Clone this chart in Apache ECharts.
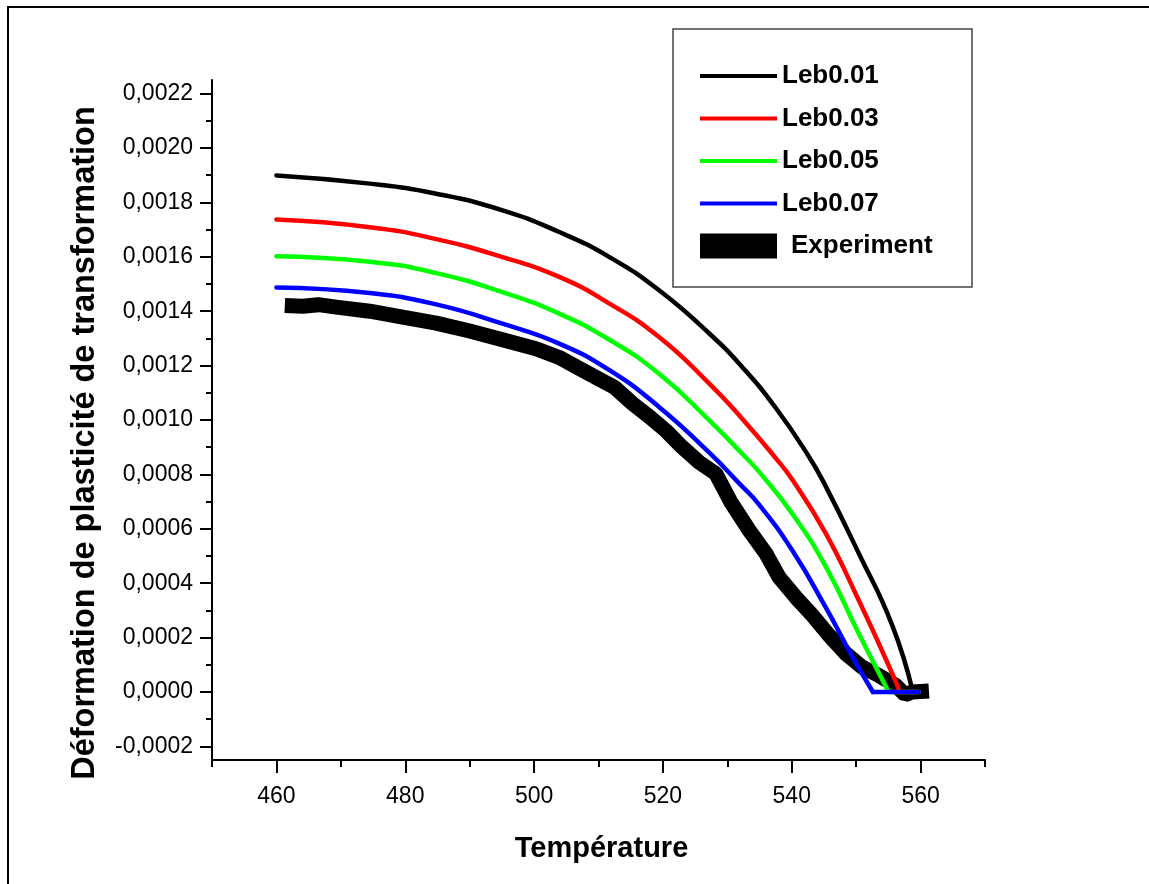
<!DOCTYPE html>
<html>
<head>
<meta charset="utf-8">
<title>Déformation de plasticité de transformation</title>
<script src="https://cdn.jsdelivr.net/npm/echarts@6/dist/echarts.min.js"></script>
<style>
  html, body { margin: 0; padding: 0; background: #fff; }
  #chart { width: 1149px; height: 884px; }
</style>
</head>
<body>
<div id="chart"></div>
<script>
// Axis ticks
const xMajorTicks = [460, 480, 500, 520, 540, 560];
const yMajorTicks = [-0.0002, 0, 0.0002, 0.0004, 0.0006, 0.0008, 0.0010, 0.0012, 0.0014, 0.0016, 0.0018, 0.0020, 0.0022];
const yMinorTicks = [-0.0001, 0.0001, 0.0003, 0.0005, 0.0007, 0.0009, 0.0011, 0.0013, 0.0015, 0.0017, 0.0019, 0.0021];

// Model curves: [température, déformation] up to the end of transformation
const leb001 = [
  [460, 0.001899], [474.5, 0.001869], [484.8, 0.001832], [495.1, 0.001771],
  [503.9, 0.001691], [511.7, 0.001599], [519.4, 0.001477], [527.2, 0.001318],
  [532.3, 0.001195], [537.5, 0.001045], [542.7, 0.000864], [545.3, 0.000755],
  [550.4, 0.000510], [555.6, 0.000245], [558.8, 0]
];
const leb003 = [
  [460, 0.001737], [474.5, 0.001709], [484.8, 0.001665], [495.1, 0.001599],
  [503.9, 0.001526], [511.7, 0.001428], [519.4, 0.001305], [527.2, 0.001134],
  [532.3, 0.001005], [537.5, 0.000860], [540.1, 0.000780], [545.3, 0.000582],
  [550.4, 0.000337], [555.6, 0.000068], [556.8, 0]
];
const leb005 = [
  [460, 0.001602], [474.5, 0.001582], [484.8, 0.001540], [495.1, 0.001470],
  [503.9, 0.001391], [511.7, 0.001295], [519.4, 0.001170], [527.2, 0.000999],
  [532.3, 0.000876], [534.9, 0.000810], [540.1, 0.000655], [545.3, 0.000460],
  [550.4, 0.000215], [554.6, 0.000020], [555.0, 0]
];
const leb007 = [
  [460, 0.001487], [474.5, 0.001467], [484.8, 0.001425], [495.1, 0.001354],
  [503.9, 0.001281], [511.7, 0.001183], [519.4, 0.001048], [527.2, 0.000880],
  [531.8, 0.000768], [534.9, 0.000690], [540.1, 0.000520], [545.3, 0.000310],
  [549.4, 0.000130], [552.6, 0]
];
// Plateau after the end of transformation
const leb001Tail = [[558.8, 0], [559.7, 0]];
const leb003Tail = [[556.8, 0], [559.7, 0]];
const leb005Tail = [[555.0, 0], [559.7, 0]];
const leb007Tail = [[552.6, 0], [559.7, 0]];

// Measured curve
const experiment = [
  [461.3, 0.001421], [464.1, 0.001418], [466.5, 0.001424], [469.3, 0.001415],
  [474.5, 0.001400], [479.6, 0.001378], [484.8, 0.001356], [490.0, 0.001327],
  [495.1, 0.001295], [500.3, 0.001262], [503.9, 0.001230], [507.0, 0.001190],
  [510.1, 0.001150], [512.5, 0.001120], [515.3, 0.001060], [518.0, 0.001010],
  [520.5, 0.000960], [523.0, 0.000900], [525.6, 0.000845], [528.2, 0.000803],
  [530.5, 0.000700], [533.4, 0.000594], [536.0, 0.000509], [538.0, 0.000423],
  [540.6, 0.000349], [543.2, 0.000282], [545.8, 0.000208], [548.4, 0.000141],
  [550.9, 0.000092], [553.5, 0.000061], [556.1, 0.000025], [557.6, -0.000010],
  [558.7, 0], [561.3, 0.000004]
];

const FONT = "'Liberation Sans', Arial, sans-serif";
const fmt = v => v.toFixed(4).replace('.', ',');
const LINE_ICON = 'path://M0,0H77V4H0Z';

const chart = echarts.init(document.getElementById('chart'), null, { renderer: 'canvas' });

const modelLine = (name, data, color, smooth) => ({
  name, type: 'line', data,
  xAxisIndex: 0, yAxisIndex: 0,
  showSymbol: false, symbol: 'none',
  smooth: smooth ? 0.5 : false,
  lineStyle: { color, width: 4.5, cap: 'round', join: 'round' },
  itemStyle: { color },
  z: 3
});

const curves = [
  ['Leb0.01', leb001, leb001Tail, '#000000'],
  ['Leb0.03', leb003, leb003Tail, '#ff0000'],
  ['Leb0.05', leb005, leb005Tail, '#00ff00'],
  ['Leb0.07', leb007, leb007Tail, '#0000ff']
];
const modelSeries = [];
curves.forEach(([name, data, tail, color]) => {
  modelSeries.push(modelLine(name, data, color, true));
  modelSeries.push(modelLine(name, tail, color, false));
});

chart.setOption({
  animation: false,
  backgroundColor: '#fff',
  grid: { left: 212, right: 164, top: 80, bottom: 124, containLabel: false },
  xAxis: [
    {
      type: 'value', min: 450, max: 570, position: 'bottom',
      name: 'Température', nameLocation: 'middle', nameGap: 74,
      nameTextStyle: { fontFamily: FONT, fontWeight: 'bold', fontSize: 29, color: '#000', padding: [0, 0, 0, 6] },
      axisLine: { show: true, onZero: false, lineStyle: { color: '#000', width: 2 } },
      axisTick: { show: true, length: 13, customValues: xMajorTicks, lineStyle: { color: '#000', width: 2 } },
      axisLabel: { show: true, customValues: xMajorTicks, margin: 25, fontFamily: FONT, fontSize: 23, color: '#000' },
      splitLine: { show: false }
    },
    {
      type: 'value', min: 450, max: 570, interval: 10, position: 'bottom',
      axisLine: { show: false, onZero: false },
      axisTick: { show: true, length: 7, lineStyle: { color: '#000', width: 2 } },
      axisLabel: { show: false },
      splitLine: { show: false }
    }
  ],
  yAxis: [
    {
      type: 'value', min: -0.00025, max: 0.00225, position: 'left',
      name: 'Déformation de plasticité de transformation', nameLocation: 'middle', nameGap: 110,
      nameTextStyle: { fontFamily: FONT, fontWeight: 'bold', fontSize: 32.5, color: '#000', padding: [0, 46, 0, 0] },
      axisLine: { show: true, onZero: false, lineStyle: { color: '#000', width: 2 } },
      axisTick: { show: true, length: 12, customValues: yMajorTicks, lineStyle: { color: '#000', width: 2 } },
      axisLabel: { show: true, customValues: yMajorTicks, margin: 19, formatter: fmt, fontFamily: FONT, fontSize: 23, color: '#000' },
      splitLine: { show: false }
    },
    {
      type: 'value', min: -0.00025, max: 0.00225, position: 'left',
      axisLine: { show: false, onZero: false },
      axisTick: { show: true, length: 6, customValues: yMinorTicks, lineStyle: { color: '#000', width: 2 } },
      axisLabel: { show: false, customValues: yMinorTicks },
      splitLine: { show: false }
    }
  ],
  legend: {
    orient: 'vertical', left: 695, top: 58,
    itemWidth: 77, itemHeight: 25, itemGap: 16.5,
    textStyle: { fontFamily: FONT, fontWeight: 'bold', fontSize: 26, color: '#000' },
    data: [
      { name: 'Leb0.01', icon: LINE_ICON },
      { name: 'Leb0.03', icon: LINE_ICON },
      { name: 'Leb0.05', icon: LINE_ICON },
      { name: 'Leb0.07', icon: LINE_ICON },
      { name: 'Experiment', icon: 'rect', textStyle: { padding: [0, 0, 0, 9] } }
    ]
  },
  graphic: [
    { type: 'rect', z: -10, silent: true, shape: { x: 8, y: 7, width: 1300, height: 1000 },
      style: { fill: null, stroke: '#000', lineWidth: 2 } },
    { type: 'rect', z: -10, silent: true, shape: { x: 673, y: 29, width: 299, height: 258 },
      style: { fill: null, stroke: '#444', lineWidth: 1.5 } }
  ],
  series: [
    {
      name: 'Experiment', type: 'line', data: experiment,
      xAxisIndex: 0, yAxisIndex: 0,
      showSymbol: false, symbol: 'none',
      lineStyle: { color: '#000', width: 15, cap: 'butt', join: 'bevel' },
      itemStyle: { color: '#000' },
      z: 1
    }
  ].concat(modelSeries)
});
</script>
</body>
</html>
